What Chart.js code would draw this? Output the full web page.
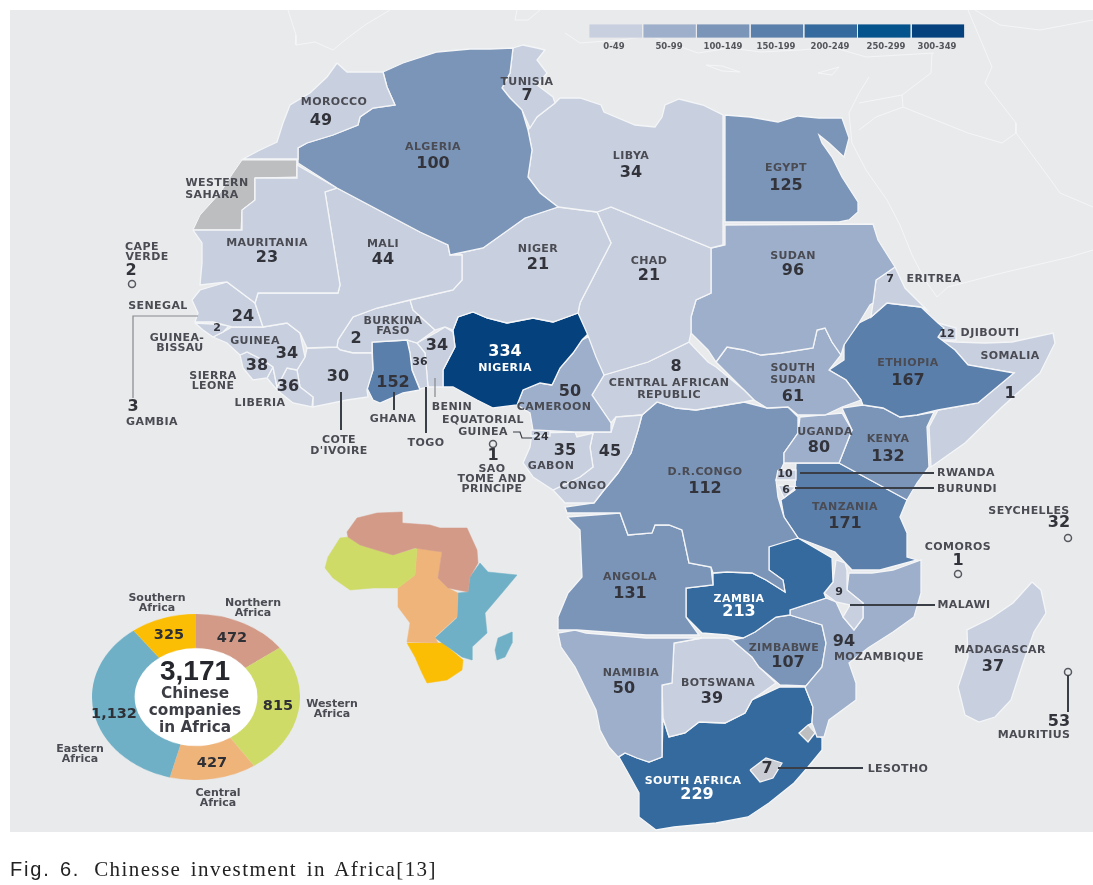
<!DOCTYPE html>
<html lang="en">
<head>
<meta charset="UTF-8">
<title>Chinese investment in Africa</title>
<script src="https://cdn.jsdelivr.net/npm/chart.js"></script>
<style>
    html, body { margin: 0; padding: 0; background: #fff; }
    #page { position: relative; width: 1093px; height: 885px; overflow: hidden; }
    #panel { position: absolute; left: 10px; top: 10px; width: 1083px; height: 822px; background: #e9eaec; }
    #donut { position: absolute; left: 92px; top: 614px; transform: scaleY(0.798); transform-origin: 0 0; filter: blur(0.4px); }
    #map { position: absolute; left: 0; top: 0; filter: blur(0.4px); }
    #caption { position: absolute; left: 10px; top: 857px; font: 21px "Liberation Serif", serif; color: #222; word-spacing: 3px; letter-spacing: 1.4px; white-space: nowrap; }
    #caption span { font: 20px "Liberation Sans", sans-serif; letter-spacing: 1.8px; word-spacing: 2px; margin-right: 14px; }
</style>
</head>
<body>
<div id="page">
    <div id="panel"></div>
    <canvas id="donut" width="208" height="208"></canvas>
    <canvas id="map" width="1093" height="885"></canvas>
    <div id="caption"><span>Fig. 6.</span>Chinesse investment in Africa[13]</div>
</div>

<script>
"use strict"

// companies per country
const countries = ["Morocco","Algeria","Tunisia","Libya","Egypt","Mauritania","Mali","Niger","Chad","Sudan","Eritrea","Cape Verde","Senegal","Guinea-Bissau","Guinea","Sierra Leone","Liberia","Gambia","Cote d'Ivoire","Burkina Faso","Ghana","Togo","Benin","Nigeria","Cameroon","Equatorial Guinea","Sao Tome","Gabon","Congo","CAR","South Sudan","Ethiopia","Djibouti","Somalia","Uganda","Kenya","Rwanda","Burundi","DR Congo","Tanzania","Seychelles","Comoros","Angola","Zambia","Malawi","Mozambique","Zimbabwe","Namibia","Botswana","Madagascar","Mauritius","South Africa","Lesotho"]
const companies = [49,100,7,34,125,23,44,21,21,96,7,2,24,2,34,38,36,3,30,2,152,36,34,334,50,24,1,35,45,8,61,167,12,1,80,132,10,6,112,171,32,1,131,213,9,94,107,50,39,37,53,229,7]

const binLabels = ["0-49","50-99","100-149","150-199","200-249","250-299","300-349"]
const binColors = ["#c8d0df","#9dafca","#7b95b9","#5b7fab","#346a9d","#04538c","#04417d"]

const regions = ["Northern Africa","Western Africa","Central Africa","Eastern Africa","Southern Africa"]
const regionTotals = [472,815,427,1132,325]
const regionColors = ["#d29a87","#cfdb67","#efb47a","#6fb0c6","#fcbd05"]

// country outlines in map units, x,y pairs
const outlines = {
    "Morocco": [337,63,347,72,383,72,387,87,395,105,373,108,360,117,358,125,333,135,307,143,298,148,298,159,243,159,260,150,277,142,283,123,290,105,310,93,327,77],
    "Algeria": [383,72,403,63,437,52,470,49,490,49,513,48,510,73,502,88,510,98,522,110,528,130,532,150,528,177,540,193,558,207,525,218,483,248,450,255,448,245,420,232,337,188,298,163,298,148,307,143,333,135,358,125,360,117,373,108,395,105,387,87],
    "Tunisia": [513,48,523,45,537,48,545,50,537,60,547,73,537,85,553,97,555,103,537,117,530,128,522,110,510,98,502,88,510,73],
    "Libya": [555,103,560,98,580,98,601,105,604,112,635,125,655,127,662,117,665,105,679,99,703,105,723,115,723,245,711,248,611,207,597,212,558,207,540,193,528,177,532,150,528,130,537,117],
    "Egypt": [725,115,750,117,778,122,798,116,819,118,842,118,849,138,844,157,829,143,819,135,822,143,832,157,842,177,858,202,858,212,849,220,839,222,725,222],
    "Mauritania": [193,230,242,230,242,210,255,200,255,178,297,178,297,165,337,188,325,192,340,285,338,293,258,293,255,303,227,282,200,285,202,263,202,243],
    "Mali": [325,192,337,188,420,232,448,245,450,255,462,255,462,280,453,290,410,300,377,308,353,317,338,340,337,347,307,348,300,333,287,323,263,327,255,303,258,293,338,293,340,285],
    "Niger": [558,207,597,212,611,243,580,303,578,313,553,322,533,318,507,323,487,318,473,312,458,317,453,330,445,327,435,330,413,310,410,300,453,290,462,280,462,255,450,255,483,248,525,218],
    "Chad": [597,212,611,207,711,248,711,293,696,300,691,317,691,333,689,342,648,362,604,375,596,357,587,333,578,313,580,303,611,243],
    "Sudan": [725,225,873,224,878,240,895,267,876,280,873,303,870,305,859,323,844,345,841,355,832,342,825,328,817,330,813,348,781,353,761,355,744,350,727,347,716,362,708,350,691,333,691,317,696,300,711,293,711,248,725,245],
    "Eritrea": [895,267,905,288,927,310,921,307,887,303,871,317,873,303,876,280],
    "Senegal": [200,290,192,300,198,313,195,322,213,322,232,327,263,327,255,303,227,282],
    "Guinea-Bissau": [195,323,230,325,223,332,213,337,203,330],
    "Guinea": [213,337,223,332,232,327,263,327,287,323,300,333,305,357,297,370,287,368,277,387,273,367,263,360,247,352,240,355,227,343],
    "Sierra Leone": [240,355,247,352,263,360,273,367,267,378,253,380,243,368],
    "Liberia": [267,378,273,367,277,387,287,368,297,370,300,387,313,397,312,407,293,403,277,390],
    "Cote d'Ivoire": [305,357,307,348,337,347,340,350,353,353,372,353,373,370,367,390,368,397,347,400,313,407,313,397,300,387,297,370],
    "Burkina Faso": [338,340,353,317,377,308,410,300,413,310,435,330,417,343,407,340,372,342,372,353,353,353,340,350,337,347],
    "Ghana": [372,342,407,340,410,353,412,370,420,390,403,393,380,403,373,400,367,388,373,370],
    "Togo": [407,340,417,343,425,353,428,387,420,389,412,370,410,353],
    "Benin": [417,343,437,332,445,327,453,332,455,347,443,370,443,387,428,387,425,353],
    "Nigeria": [458,317,473,312,487,318,507,323,533,318,553,322,578,313,592,330,582,340,573,353,560,368,552,385,540,383,523,390,517,405,493,408,477,400,453,387,443,387,443,370,455,347,453,330],
    "Cameroon": [552,385,560,368,573,353,582,340,592,335,601,343,604,375,592,395,611,423,611,432,575,432,533,430,530,413,517,405,523,390,540,383],
    "Equatorial Guinea": [531,430,550,430,550,436,531,436],
    "Gabon": [532,433,575,432,577,437,593,433,590,447,593,467,580,477,553,490,533,477,523,463,530,447],
    "Congo": [575,432,611,432,616,417,642,415,638,430,631,453,618,473,604,490,594,503,565,503,553,490,580,477,593,467,590,447,593,433],
    "CAR": [604,375,648,362,689,342,708,362,716,367,744,390,754,400,744,402,696,410,676,408,657,402,642,415,616,417,611,423,592,395],
    "South Sudan": [716,362,727,347,744,350,761,355,781,353,813,348,817,330,825,328,832,342,841,355,829,370,846,380,861,400,842,407,825,415,798,415,788,407,767,408,754,400,744,390],
    "Ethiopia": [871,317,887,303,921,307,938,323,944,328,938,337,955,350,968,365,1014,373,978,403,938,410,917,415,900,417,883,408,863,405,861,400,846,380,829,370,844,360,844,343,859,323],
    "Djibouti": [938,323,956,328,956,340,938,340],
    "Somalia": [938,340,955,342,985,343,1012,342,1053,333,1055,343,1040,373,1002,407,965,443,931,467,929,427,938,410,978,403,1014,373,968,365,955,350],
    "Uganda": [800,417,842,413,852,430,839,463,784,463,784,453,798,433],
    "Kenya": [842,408,863,405,883,408,900,417,917,415,934,412,927,427,929,467,917,483,907,500,839,463,852,430],
    "Rwanda": [778,470,796,470,796,480,776,480],
    "Burundi": [778,485,796,487,784,498],
    "DR Congo": [642,415,657,402,676,408,696,410,744,402,767,408,788,407,798,417,798,433,784,453,784,463,776,480,778,497,781,507,784,517,798,538,769,547,769,570,783,580,785,592,766,580,752,573,727,572,713,573,711,567,689,563,682,530,669,525,655,525,652,533,628,535,620,513,567,513,565,507,594,503,604,490,618,473,631,453,638,430],
    "Tanzania": [796,463,839,463,907,500,900,517,907,533,907,557,917,560,880,570,852,570,835,552,798,538,784,517,781,500,795,490],
    "Angola": [567,517,620,513,628,535,652,533,655,525,669,525,682,530,689,563,711,567,713,585,686,588,686,617,699,635,646,635,577,630,558,630,558,617,568,593,582,577,580,530],
    "Zambia": [686,588,713,585,713,573,727,572,752,573,766,580,785,592,783,580,769,570,769,547,777,542,798,538,832,558,833,582,824,593,826,598,790,610,790,615,776,617,755,632,743,638,727,635,702,633,686,617],
    "Malawi": [836,560,833,582,824,593,836,602,850,605,843,617,854,630,863,618,863,603,847,590,847,570,845,563],
    "Mozambique": [849,573,872,573,893,570,921,560,921,593,914,617,893,632,868,648,849,663,856,683,856,700,829,720,824,737,817,737,812,723,813,707,805,687,822,667,826,643,822,625,790,615,790,610,826,598,836,602,843,617,854,630,863,618,863,603,847,590],
    "Zimbabwe": [732,640,743,638,755,632,776,617,790,615,822,625,826,643,822,667,806,686,780,685,759,667,752,657],
    "Namibia": [558,633,575,630,586,633,646,638,702,638,674,643,672,683,662,685,662,757,649,762,637,758,625,753,618,757,609,747,600,730,596,710,575,667,561,647],
    "Botswana": [674,643,702,638,727,638,732,640,752,657,759,667,776,683,752,700,745,713,725,723,699,722,685,733,669,737,663,718,662,685,672,683],
    "Madagascar": [1032,582,1041,590,1046,613,1034,632,1023,663,1011,700,995,717,979,722,965,715,958,687,968,657,967,630,991,618,1013,603],
    "Lesotho": [750,770,766,758,782,763,773,778,760,782],
    "South Africa": [619,757,625,753,637,758,649,762,662,757,663,718,669,737,685,733,699,722,725,723,745,713,752,700,780,687,805,687,813,707,812,723,808,725,799,733,808,742,815,733,822,738,822,750,808,767,794,783,769,803,748,817,716,823,674,827,656,830,639,817,639,793,628,773]
}

// no data territories
const greyShapes = [
    [242,160,297,160,297,177,255,178,255,200,242,210,241,230,193,230,200,215,220,193,233,173],
    [799,733,808,725,815,733,808,742]
]

// small locator map, one colour per region
const miniShapes = [
    [347,532,357,518,377,513,402,512,402,523,430,525,440,528,467,528,477,550,478,563,470,577,468,592,448,588,438,578,442,552,415,548,393,555,360,545,348,537],
    [328,557,340,538,348,537,360,545,393,555,417,548,415,575,398,588,373,588,350,590,333,578,325,568],
    [417,548,442,552,438,578,448,588,458,593,457,617,435,637,438,643,407,642,410,623,398,607,398,588,415,575],
    [480,563,488,572,517,575,502,593,485,613,487,633,472,647,472,660,462,657,448,647,435,638,457,618,458,593,468,592,470,577],
    [407,643,443,643,463,660,462,670,447,680,427,683,422,673,415,657]
]
const miniIsland = [512,632,512,643,505,657,497,660,495,650,498,638]

// thin white borders of the land around Africa
const backdropLines = [
    [288,10,296,35,296,45,315,42,333,50,345,40,365,25,390,10],
    [517,10,515,20,528,20,540,10],
    [565,33,580,43,620,40,650,36,698,53,730,48,761,52,800,50,832,47,866,57,934,53],
    [706,65,722,66,740,72,722,71,706,65],
    [818,73,839,67,832,75,818,73],
    [869,77,859,93,849,113,852,143,866,170,887,200,900,225,912,255,925,280,937,297,948,287,1002,273,1070,257,1093,250],
    [859,103,902,95,931,73,932,53],
    [902,95,903,107,968,133,1002,143,1016,133,1053,183,1060,193,1093,207],
    [903,107,876,117,859,130],
    [968,10,992,67,985,83,1016,123,1016,133],
    [975,10,1000,25,1040,30,1093,20]
]

// leader lines between a place and its label
const leaders = [
    [133,398,133,316,198,316],
    [341,392,341,430],
    [394,392,394,410],
    [426,387,426,433],
    [435,378,435,397],
    [513,432,520,432,522,438,532,438],
    [800,473,934,473],
    [795,488,934,488],
    [850,605,935,605],
    [778,768,863,768],
    [1068,675,1068,712]
]
const islandMarks = [132,284, 493,444, 1068,538, 958,574, 1068,672]

// where the number of each country goes
const numberSpots = {
    "Morocco":[321,121],"Algeria":[433,164],"Tunisia":[527,96],"Libya":[631,173],"Egypt":[786,186],"Mauritania":[267,258],"Mali":[383,260],"Niger":[538,265],"Chad":[649,276],"Sudan":[793,271],"Eritrea":[890,279],"Cape Verde":[131,271],"Senegal":[243,317],"Guinea-Bissau":[217,328],"Guinea":[287,354],"Sierra Leone":[257,366],"Liberia":[288,387],"Gambia":[133,407],"Cote d'Ivoire":[338,377],"Burkina Faso":[356,339],"Ghana":[393,383],"Togo":[420,362],"Benin":[437,346],"Nigeria":[505,352],"Cameroon":[570,392],"Equatorial Guinea":[541,437],"Sao Tome":[493,456],"Gabon":[565,451],"Congo":[610,452],"CAR":[676,367],"South Sudan":[793,397],"Ethiopia":[908,381],"Djibouti":[947,334],"Somalia":[1010,394],"Uganda":[819,448],"Kenya":[888,457],"Rwanda":[785,474],"Burundi":[786,490],"DR Congo":[705,489],"Tanzania":[845,524],"Seychelles":[1059,523],"Comoros":[958,561],"Angola":[630,594],"Zambia":[739,612],"Malawi":[839,592],"Mozambique":[844,642],"Zimbabwe":[788,663],"Namibia":[624,689],"Botswana":[712,699],"Madagascar":[993,667],"Mauritius":[1059,722],"South Africa":[697,795],"Lesotho":[767,769]
}
const smallNumbers = ["Guinea-Bissau","Togo","Djibouti","Rwanda","Burundi","Malawi","Equatorial Guinea","Eritrea"]

const nameLabels = [
    ["MOROCCO",334,102],["ALGERIA",433,147],["TUNISIA",527,82],["LIBYA",631,156],["EGYPT",786,168],["WESTERN",217,183],["SAHARA",212,195],
    ["MAURITANIA",267,243],["MALI",383,244],["NIGER",538,249],["CHAD",649,261],["SUDAN",793,256],["ERITREA",934,279],["CAPE",142,247],["VERDE",147,257],
    ["SENEGAL",158,306],["GUINEA-",177,338],["BISSAU",180,348],["GUINEA",255,341],["SIERRA",213,376],["LEONE",213,386],["LIBERIA",260,403],["GAMBIA",152,422],
    ["COTE",339,440],["D'IVOIRE",339,451],["BURKINA",393,321],["FASO",393,331],["GHANA",393,419],["TOGO",426,443],["BENIN",452,407],["CAMEROON",554,407],
    ["EQUATORIAL",483,420],["GUINEA",483,432],["SAO",492,469],["TOME AND",492,479],["PRINCIPE",492,489],["GABON",551,466],["CONGO",583,486],
    ["CENTRAL AFRICAN",669,383],["REPUBLIC",669,395],["SOUTH",793,368],["SUDAN",793,380],["ETHIOPIA",908,363],["DJIBOUTI",990,333],["SOMALIA",1010,356],
    ["UGANDA",825,432],["KENYA",888,439],["RWANDA",966,473],["BURUNDI",967,489],["D.R.CONGO",705,472],["TANZANIA",845,507],["SEYCHELLES",1029,511],["COMOROS",958,547],
    ["ANGOLA",630,577],["MALAWI",964,605],["MOZAMBIQUE",879,657],["ZIMBABWE",784,648],["NAMIBIA",631,673],["BOTSWANA",718,683],["MADAGASCAR",1000,650],["MAURITIUS",1034,735],["LESOTHO",898,769]
]
const whiteLabels = [["NIGERIA",505,368],["ZAMBIA",739,599],["SOUTH AFRICA",693,781]]
const binSpots = [614,669,723,776,830,886,937]

const regionLabels = [
    ["Southern",157,598],["Africa",157,608],["Northern",253,603],["Africa",253,613],["Western",332,704],["Africa",332,714],
    ["Central",218,793],["Africa",218,803],["Eastern",80,749],["Africa",80,759]
]
const totalSpots = [[232,638],[278,706],[212,763],[114,714],[169,635]]
const centerLines = [["Chinese",195,694],["companies",195,711],["in Africa",195,728]]

function toPoints(flat){
    let pts = []
    for(let i = 0; i < flat.length; i += 2){
        pts.push({x: flat[i], y: flat[i + 1]})
    }
    return pts
}

function shape(flat, color, border, width){
    return {
        data: toPoints(flat.concat(flat[0], flat[1])),
        showLine: true,
        fill: "shape",
        backgroundColor: color,
        borderColor: border,
        borderWidth: width,
        pointRadius: 0,
        tension: 0
    }
}

function line(flat, color, width){
    return {
        data: toPoints(flat),
        showLine: true,
        fill: false,
        borderColor: color,
        borderWidth: width,
        pointRadius: 0,
        tension: 0
    }
}

function valueOf(name){
    return companies[countries.indexOf(name)]
}

let datasets = []

// first dataset ends up on top in Chart.js, so leaders come first
leaders.forEach((l, i) => {
    let color = (i == 0 || i == 4) ? "#85878b" : "#3a3f47"
    let width = (i == 0 || i == 4 || i == 5) ? 1.2 : 2
    datasets.push(line(l, color, width))
})
datasets.push({
    data: toPoints(islandMarks),
    showLine: false,
    pointRadius: 3.5,
    pointBorderWidth: 1.5,
    pointBorderColor: "#55585e",
    pointBackgroundColor: "rgba(233,234,236,0)"
})

// colour key, one cell per bin
binLabels.forEach((b, i) => {
    let x0 = 589 + i * 53.7
    let x1 = x0 + 53.7
    datasets.push(shape([x0,24,x1,24,x1,38,x0,38], binColors[i], "#e9eaec", 0.8))
})

Object.keys(outlines).forEach(name => {
    let v = valueOf(name)
    let color = name == "Lesotho" ? "#c9ccd3" : binColors[Math.floor(v / 50)]
    datasets.push(shape(outlines[name], color, "#f4f5f7", 1.3))
})
greyShapes.forEach(g => datasets.push(shape(g, "#bcbec0", "#f4f5f7", 1)))

miniShapes.forEach((m, i) => {
    datasets.push(shape(m, regionColors[i], regionColors[i], 0.5))
})
datasets.push(shape(miniIsland, regionColors[3], regionColors[3], 0.5))

backdropLines.forEach(l => datasets.push(line(l, "#f4f5f6", 1)))

const mapText = {
    id: "mapText",
    afterDatasetsDraw(chart){
        const c = chart.ctx
        const sx = chart.scales.x
        const sy = chart.scales.y
        function put(text, x, y, font, color){
            c.font = font
            c.fillStyle = color
            c.fillText(text, sx.getPixelForValue(x), sy.getPixelForValue(y))
        }
        c.save()
        c.textAlign = "center"
        c.textBaseline = "middle"
        c.letterSpacing = "0.4px"
        nameLabels.forEach(n => put(n[0], n[1], n[2], "bold 11px 'DejaVu Sans'", "#4a4b53"))
        whiteLabels.forEach(n => put(n[0], n[1], n[2], "bold 11px 'DejaVu Sans'", "#ffffff"))
        c.letterSpacing = "0px"
        Object.keys(numberSpots).forEach(name => {
            let v = valueOf(name)
            let p = numberSpots[name]
            let small = smallNumbers.includes(name)
            let font = small ? "bold 11px 'DejaVu Sans'" : "bold 16px 'DejaVu Sans'"
            put(String(v), p[0], p[1], font, v >= 200 ? "#ffffff" : "#33343b")
        })
        binLabels.forEach((b, i) => put(b, binSpots[i], 47, "bold 8.5px 'DejaVu Sans'", "#55565c"))
        regionLabels.forEach(n => put(n[0], n[1], n[2], "bold 11px 'DejaVu Sans'", "#4a4b53"))
        regionTotals.forEach((t, i) => {
            put(t.toLocaleString("en-US"), totalSpots[i][0], totalSpots[i][1], "bold 14.5px 'DejaVu Sans'", "#2f3036")
        })
        const total = regionTotals.reduce((a, b) => a + b, 0)
        put(total.toLocaleString("en-US"), 195, 672, "bold 28px 'Liberation Sans'", "#26272d")
        centerLines.forEach(n => put(n[0], n[1], n[2], "bold 15.3px 'DejaVu Sans'", "#3d3e45"))
        c.restore()
    }
}

new Chart(document.getElementById("map"), {
    type: "scatter",
    data: { datasets: datasets },
    options: {
        responsive: false,
        animation: false,
        events: [],
        layout: { padding: 0, autoPadding: false },
        plugins: { legend: { display: false }, tooltip: { enabled: false } },
        scales: {
            x: { type: "linear", min: 0, max: 1093, display: false },
            y: { type: "linear", min: 0, max: 885, reverse: true, display: false }
        }
    },
    plugins: [mapText]
})

// white hole of the ring
const holeFill = {
    id: "holeFill",
    beforeDatasetsDraw(chart){
        const arc = chart.getDatasetMeta(0).data[0]
        chart.ctx.save()
        chart.ctx.fillStyle = "#ffffff"
        chart.ctx.beginPath()
        chart.ctx.arc(arc.x, arc.y, arc.innerRadius + 1, 0, Math.PI * 2)
        chart.ctx.fill()
        chart.ctx.restore()
    }
}

new Chart(document.getElementById("donut"), {
    type: "doughnut",
    data: {
        labels: regions,
        datasets: [{ data: regionTotals, backgroundColor: regionColors, borderWidth: 0 }]
    },
    options: {
        responsive: false,
        animation: false,
        events: [],
        cutout: "59%",
        layout: { padding: 0 },
        plugins: { legend: { display: false }, tooltip: { enabled: false } }
    },
    plugins: [holeFill]
})
</script>
</body>
</html>
